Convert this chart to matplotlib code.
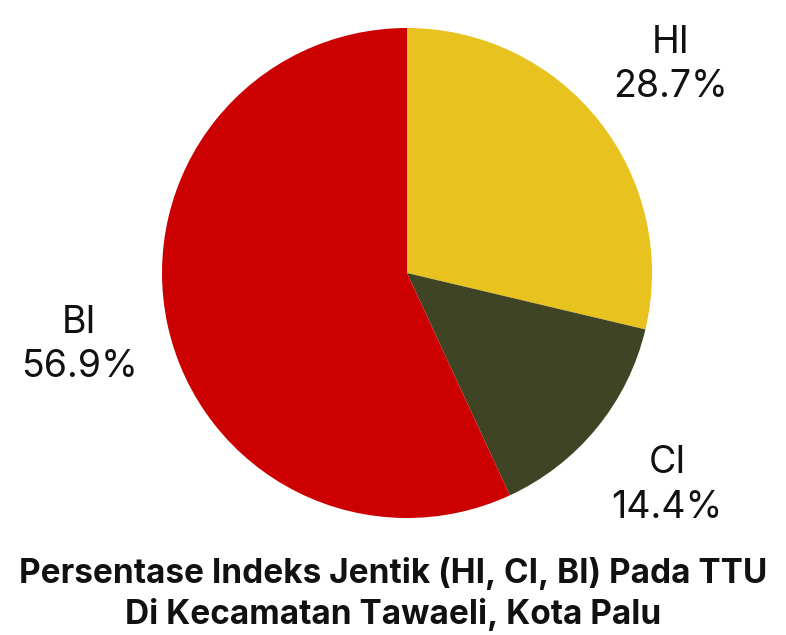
import matplotlib
matplotlib.use("Agg")
import matplotlib.pyplot as plt

labels = ["HI", "CI", "BI"]
values = [28.7, 14.4, 56.9]
colors = ["#E8C21F", "#3F4425", "#CC0000"]
title = "Persentase Indeks Jentik (HI, CI, BI) Pada TTU\nDi Kecamatan Tawaeli, Kota Palu"

plt.rcParams['font.family'] = ['Inter', 'DejaVu Sans']

fig = plt.figure(figsize=(7.86, 6.35), dpi=100)
# pie centre ~ (407, 273) px, radius ~ 245 px
ax = fig.add_axes([(407 - 245) / 786, (635 - 273 - 245) / 635, 490 / 786, 490 / 635])

texts = ax.pie(values, colors=colors, startangle=90, counterclock=False,
               labels=[f"{l}\n{v}%" for l, v in zip(labels, values)],
               labeldistance=1.37,
               textprops=dict(fontsize=27, color="#111111", linespacing=1.3))[1]
for t in texts:
    t.set_ha("center")
    t.set_va("center")
ax.set_xlim(-1, 1)
ax.set_ylim(-1, 1)
ax.set_aspect("equal")

fig.text(0.5, 0.064, title, ha="center", va="center", fontsize=24,
         fontweight="bold", linespacing=1.3, color="#111111")

fig.savefig("out.png", dpi=100)
